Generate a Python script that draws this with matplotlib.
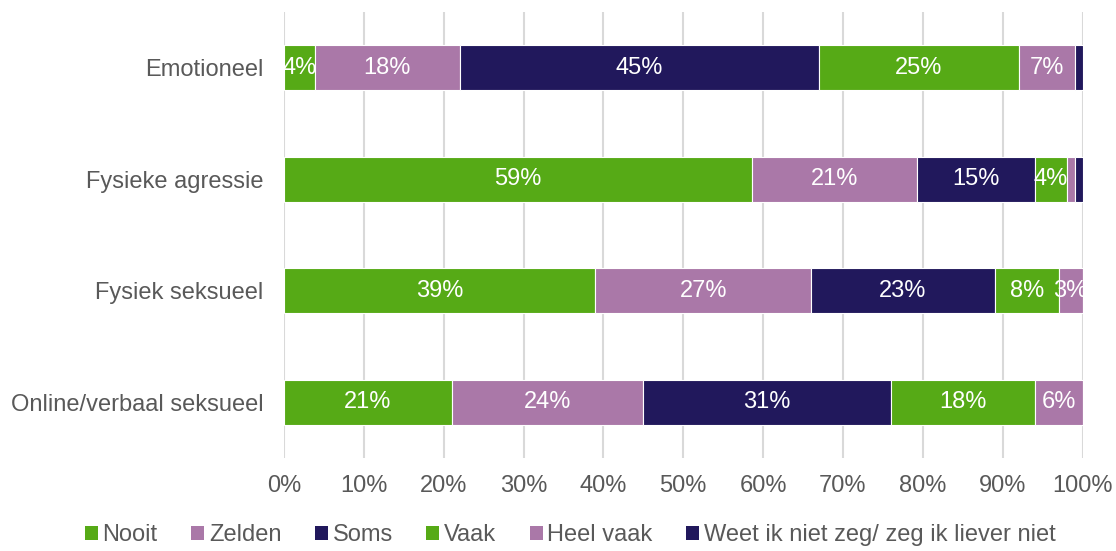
import matplotlib
matplotlib.use("Agg")
import matplotlib.pyplot as plt
import numpy as np
from matplotlib.patches import Patch

plt.rcParams['font.family'] = ['Liberation Sans', 'DejaVu Sans']

categories = ["Emotioneel", "Fysieke agressie", "Fysiek seksueel", "Online/verbaal seksueel"]
series_names = ["Nooit", "Zelden", "Soms", "Vaak", "Heel vaak", "Weet ik niet zeg/ zeg ik liever niet"]
nooit = [3.9, 58.6, 39.0, 21.0]
zelden = [18.1, 20.7, 27.0, 24.0]
soms = [45.0, 14.8, 23.0, 31.0]
vaak = [25.0, 3.9, 8.0, 18.0]
heel_vaak = [7.1, 1.1, 3.0, 6.0]
weet = [0.9, 0.9, 0.0, 0.0]
xticks = [0, 10, 20, 30, 40, 50, 60, 70, 80, 90, 100]

colors = ["#56AA16", "#AA78A8", "#21185C", "#56AA16", "#AA78A8", "#21185C"]
data = [nooit, zelden, soms, vaak, heel_vaak, weet]

FS = 17
fig = plt.figure(figsize=(11.16, 5.51), dpi=100)
ax = fig.add_axes([0.2545, 0.1688, 0.7155, 0.8094])

y = np.arange(len(categories))
left = np.zeros(len(categories))
for vals, col in zip(data, colors):
    vals = np.array(vals)
    ax.barh(y, vals, left=left, height=0.4, color=col, edgecolor="white", linewidth=0.8, zorder=3)
    for yi, (l, v) in enumerate(zip(left, vals)):
        if v >= 2.5:
            ax.text(l + v / 2, yi, f"{v:.0f}%", ha="center", va="center",
                    color="white", fontsize=FS, zorder=4)
    left += vals

ax.set_ylim(3.5, -0.5)
ax.set_xlim(0, 100)
ax.set_yticks(y)
ax.set_yticklabels(categories, fontsize=FS, color="#595959")
ax.set_xticks(xticks)
ax.set_xticklabels([f"{t}%" for t in xticks], fontsize=FS, color="#595959")
ax.tick_params(axis="x", length=0, pad=12)
ax.tick_params(axis="y", length=0, pad=15)
ax.xaxis.grid(True, color="#D9D9D9", linewidth=1.5, zorder=0)
for s in ax.spines.values():
    s.set_visible(False)

handles = [Patch(facecolor=c, edgecolor="none") for c in colors]
fig.legend(handles, series_names, loc="lower center", ncol=6, frameon=False,
           bbox_to_anchor=(0.511, -0.03), fontsize=FS, labelcolor="#595959",
           handlelength=0.55, handleheight=0.55, handletextpad=0.2, columnspacing=1.42)

fig.savefig("out.png", dpi=100)
